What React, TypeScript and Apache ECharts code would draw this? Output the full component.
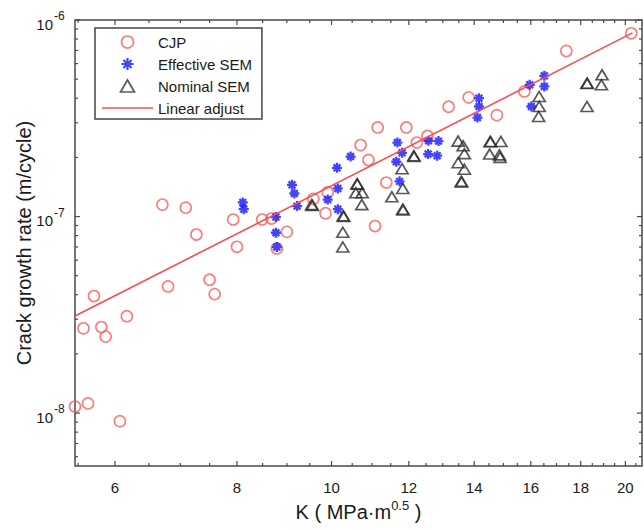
import React, { useEffect, useRef } from "react";
import * as echarts from "echarts";

// ---------- data ----------
const cjp: number[][] = [
  [5.46, 1.08e-8], [5.63, 1.12e-8], [6.07, 9.1e-9], [5.57, 2.7e-8], [5.81, 2.74e-8],
  [5.87, 2.45e-8], [5.71, 3.94e-8], [6.17, 3.11e-8], [6.8, 4.41e-8], [7.5, 4.77e-8],
  [7.59, 4.03e-8], [8.0, 7.02e-8], [8.79, 6.88e-8], [6.71, 1.15e-7], [7.09, 1.11e-7],
  [7.27, 8.1e-8], [7.93, 9.66e-8], [8.49, 9.66e-8], [8.68, 9.77e-8], [9.0, 8.36e-8],
  [9.58, 1.23e-7], [9.86, 1.04e-7], [9.91, 1.33e-7], [10.71, 2.31e-7], [10.91, 1.94e-7],
  [11.15, 2.84e-7], [11.93, 2.84e-7], [11.38, 1.49e-7], [12.23, 2.38e-7], [12.54, 2.57e-7],
  [13.18, 3.62e-7], [13.82, 4.04e-7], [14.77, 3.28e-7], [11.08, 8.95e-8], [15.76, 4.33e-7],
  [17.4, 6.96e-7], [20.28, 8.56e-7],
];

const effectiveSem: number[][] = [
  [8.11, 1.18e-7], [8.13, 1.09e-7], [8.77, 9.94e-8], [8.77, 8.27e-8], [8.79, 7.0e-8],
  [9.11, 1.45e-7], [9.16, 1.31e-7], [9.22, 1.13e-7], [9.91, 1.22e-7], [10.13, 1.77e-7],
  [10.15, 1.39e-7], [10.15, 1.09e-7], [10.46, 2.02e-7], [11.68, 2.38e-7], [11.81, 2.11e-7],
  [11.65, 1.9e-7], [11.74, 1.51e-7], [12.57, 2.43e-7], [12.87, 2.42e-7], [12.56, 2.08e-7],
  [12.83, 2.04e-7], [14.16, 4.0e-7], [14.16, 3.63e-7], [14.11, 3.19e-7], [15.96, 4.68e-7],
  [16.02, 3.63e-7], [16.52, 5.2e-7], [16.52, 4.59e-7],
];

const nominalSem: number[][] = [
  [9.54, 1.15e-7], [9.56, 1.14e-7], [10.28, 1.01e-7], [10.29, 1.0e-7], [10.27, 8.32e-8],
  [10.27, 7.0e-8], [10.62, 1.47e-7], [10.63, 1.46e-7], [10.59, 1.32e-7], [10.75, 1.32e-7],
  [10.74, 1.15e-7], [11.81, 1.75e-7], [11.53, 1.26e-7], [11.83, 1.39e-7], [11.83, 1.09e-7],
  [11.84, 1.08e-7], [12.14, 2.04e-7], [12.15, 2.02e-7], [13.48, 2.42e-7], [13.64, 2.29e-7],
  [13.68, 2.09e-7], [13.48, 1.88e-7], [13.68, 1.74e-7], [13.58, 1.51e-7], [13.59, 1.5e-7],
  [14.54, 2.41e-7], [14.55, 2.4e-7], [14.91, 2.41e-7], [14.52, 2.08e-7], [14.86, 2.06e-7],
  [14.88, 2.0e-7], [18.27, 4.77e-7], [18.28, 4.75e-7], [18.93, 5.26e-7], [18.9, 4.68e-7],
  [18.27, 3.63e-7], [16.32, 4.08e-7], [16.32, 3.63e-7], [16.3, 3.23e-7],
];

const linearAdjust: number[][] = [
  [5.46, 3.12e-8],
  [20.34, 8.6e-7],
];

const xMajorTicks = [6, 8, 10, 12, 14, 16, 18, 20];
const xMinorTicks = [5.5, 6.5, 7, 7.5, 8.5, 9, 9.5, 10.5, 11, 11.5, 12.5, 13, 13.5, 14.5, 15, 15.5, 16.5, 17, 17.5, 18.5, 19, 19.5, 20.5];
const yMajorTicks = [1e-8, 1e-7, 1e-6];
const yMinorTicks = [
  6e-9, 7e-9, 8e-9, 9e-9,
  2e-8, 3e-8, 4e-8, 5e-8, 6e-8, 7e-8, 8e-8, 9e-8,
  2e-7, 3e-7, 4e-7, 5e-7, 6e-7, 7e-7, 8e-7, 9e-7,
];

const X_MIN = 5.46;
const X_MAX = 20.8;
const Y_MIN = 5.38e-9;
const Y_MAX = 1e-6;

const FONT = "'Liberation Sans', Arial, Helvetica, sans-serif";
const RED = "#ff5a5a";
const LINE_RED = "#ff4a4a";
const BLUE = "#1414ff";
const DARK = "#2e2e2e";
const AXIS = "#4a4a4a";
const ASTERISK = "path://M5,0L5,10M0,5L10,5M1.6,1.6L8.4,8.4M1.6,8.4L8.4,1.6";
const TRIANGLE_ICON = "path://M5.5,0L11,9.5L0,9.5Z";
const LINE_ICON = "path://M0,0L51,0L51,1.6L0,1.6Z";

export default function App() {
  const ref = useRef<HTMLDivElement>(null);

  useEffect(() => {
    if (!ref.current) return;
    const chart = echarts.init(ref.current, null, { renderer: "svg" });

    const xTickData = [
      ...xMajorTicks.map((v) => [v, Y_MAX, 1]),
      ...xMinorTicks.map((v) => [v, Y_MAX, 0]),
    ];
    const yTickData = [
      ...yMajorTicks.map((v) => [X_MIN, v, 1]),
      ...yMinorTicks.map((v) => [X_MIN, v, 0]),
    ];

    const option: any = {
      animation: false,
      backgroundColor: "#ffffff",
      grid: {
        left: 75,
        top: 20,
        right: 2,
        bottom: 63,
        show: true,
        borderColor: AXIS,
        borderWidth: 1.5,
        backgroundColor: "#ffffff",
      },
      xAxis: {
        type: "log",
        logBase: 10,
        min: X_MIN,
        max: X_MAX,
        axisLine: { show: false },
        axisTick: { show: false },
        axisLabel: { show: false },
        splitLine: { show: false },
        minorTick: { show: false },
        name: "K ( MPa·m{sup|0.5} )",
        nameLocation: "middle",
        nameGap: 33,
        nameTextStyle: {
          fontFamily: FONT,
          fontSize: 20,
          lineHeight: 26,
          color: "#1a1a1a",
          rich: {
            sup: { fontFamily: FONT, fontSize: 13, lineHeight: 13, verticalAlign: "top", color: "#1a1a1a" },
          },
        },
      },
      yAxis: {
        type: "log",
        logBase: 10,
        min: Y_MIN,
        max: Y_MAX,
        axisLine: { show: false },
        axisTick: { show: false },
        axisLabel: { show: false },
        splitLine: { show: false },
        name: "Crack growth rate (m/cycle)",
        nameLocation: "middle",
        nameRotate: 90,
        nameGap: 41,
        nameTextStyle: { fontFamily: FONT, fontSize: 20, color: "#1a1a1a" },
      },
      legend: {
        orient: "vertical",
        left: 95,
        top: 28,
        padding: [6, 10, 3, 7],
        itemWidth: 51,
        itemHeight: 12,
        itemGap: 6,
        symbolKeepAspect: true,
        borderColor: "#444",
        borderWidth: 1.5,
        backgroundColor: "#ffffff",
        textStyle: { fontFamily: FONT, fontSize: 15, lineHeight: 16, color: "#1a1a1a" },
        selectedMode: false,
        data: [
          { name: "CJP", icon: "circle", itemStyle: { color: "rgba(0,0,0,0)", borderColor: RED, borderWidth: 1.6 } },
          { name: "Effective SEM", icon: ASTERISK, itemStyle: { color: BLUE, borderColor: BLUE, borderWidth: 2.2 } },
          { name: "Nominal SEM", icon: TRIANGLE_ICON, itemStyle: { color: "rgba(0,0,0,0)", borderColor: DARK, borderWidth: 1.7 } },
          { name: "Linear adjust", icon: LINE_ICON, itemStyle: { color: LINE_RED, borderWidth: 0 } },
        ],
      },
      series: [
        {
          name: "CJP",
          type: "scatter",
          data: cjp,
          symbol: "circle",
          symbolSize: 11,
          silent: true,
          itemStyle: { color: "rgba(0,0,0,0)", borderColor: RED, borderWidth: 1.6 },
          z: 3,
        },
        {
          name: "Effective SEM",
          type: "scatter",
          data: effectiveSem,
          symbol: ASTERISK,
          symbolSize: 10,
          silent: true,
          itemStyle: { color: BLUE, borderColor: BLUE, borderWidth: 2.3 },
          z: 4,
        },
        {
          name: "Nominal SEM",
          type: "scatter",
          data: nominalSem,
          symbol: "triangle",
          symbolSize: [12, 10],
          silent: true,
          itemStyle: { color: "rgba(0,0,0,0)", borderColor: DARK, borderWidth: 1.7 },
          z: 5,
        },
        {
          name: "Linear adjust",
          type: "line",
          data: linearAdjust,
          symbol: "none",
          showSymbol: false,
          silent: true,
          lineStyle: { color: LINE_RED, width: 1.6 },
          itemStyle: { color: LINE_RED },
          z: 6,
        },
        {
          name: "xticks",
          type: "custom",
          data: xTickData,
          encode: { x: 0, y: 1 },
          silent: true,
          z: 8,
          renderItem: (params: any, api: any) => {
            const v = api.value(0);
            const major = api.value(2) === 1;
            const cs = params.coordSys;
            const x = api.coord([v, Y_MAX])[0];
            const top = cs.y;
            const bottom = cs.y + cs.height;
            const len = major ? 5 : 3;
            const st = { stroke: AXIS, lineWidth: 1.2 };
            const children: any[] = [
              { type: "line", shape: { x1: x, y1: bottom, x2: x, y2: bottom - len }, style: st },
              { type: "line", shape: { x1: x, y1: top, x2: x, y2: top + len }, style: st },
            ];
            if (major) {
              children.push({
                type: "text",
                x: x,
                y: bottom + 21,
                style: {
                  text: String(v),
                  fill: "#1a1a1a",
                  font: `15px ${FONT}`,
                  align: "center",
                  verticalAlign: "middle",
                },
              });
            }
            return { type: "group", children };
          },
        },
        {
          name: "yticks",
          type: "custom",
          data: yTickData,
          encode: { x: 0, y: 1 },
          silent: true,
          z: 8,
          renderItem: (params: any, api: any) => {
            const v = api.value(1);
            const major = api.value(2) === 1;
            const cs = params.coordSys;
            const y = api.coord([X_MIN, v])[1];
            const left = cs.x;
            const right = cs.x + cs.width;
            const len = major ? 5 : 3;
            const st = { stroke: AXIS, lineWidth: 1.2 };
            const children: any[] = [
              { type: "line", shape: { x1: left, y1: y, x2: left + len, y2: y }, style: st },
              { type: "line", shape: { x1: right, y1: y, x2: right - len, y2: y }, style: st },
            ];
            if (major) {
              const exp = Math.round(Math.log10(v));
              children.push({
                type: "text",
                x: left - 22,
                y: y + 4,
                style: {
                  text: "10",
                  fill: "#1a1a1a",
                  font: `15px ${FONT}`,
                  align: "right",
                  verticalAlign: "middle",
                },
              });
              children.push({
                type: "text",
                x: left - 21,
                y: y - 4,
                style: {
                  text: String(exp),
                  fill: "#1a1a1a",
                  font: `12px ${FONT}`,
                  align: "left",
                  verticalAlign: "middle",
                },
              });
            }
            return { type: "group", children };
          },
        },
      ],
    };

    chart.setOption(option);
    return () => {
      chart.dispose();
    };
  }, []);

  return (
    <div
      ref={ref}
      style={{ position: "fixed", left: 0, top: 0, width: 644, height: 530, background: "#fff" }}
    />
  );
}
